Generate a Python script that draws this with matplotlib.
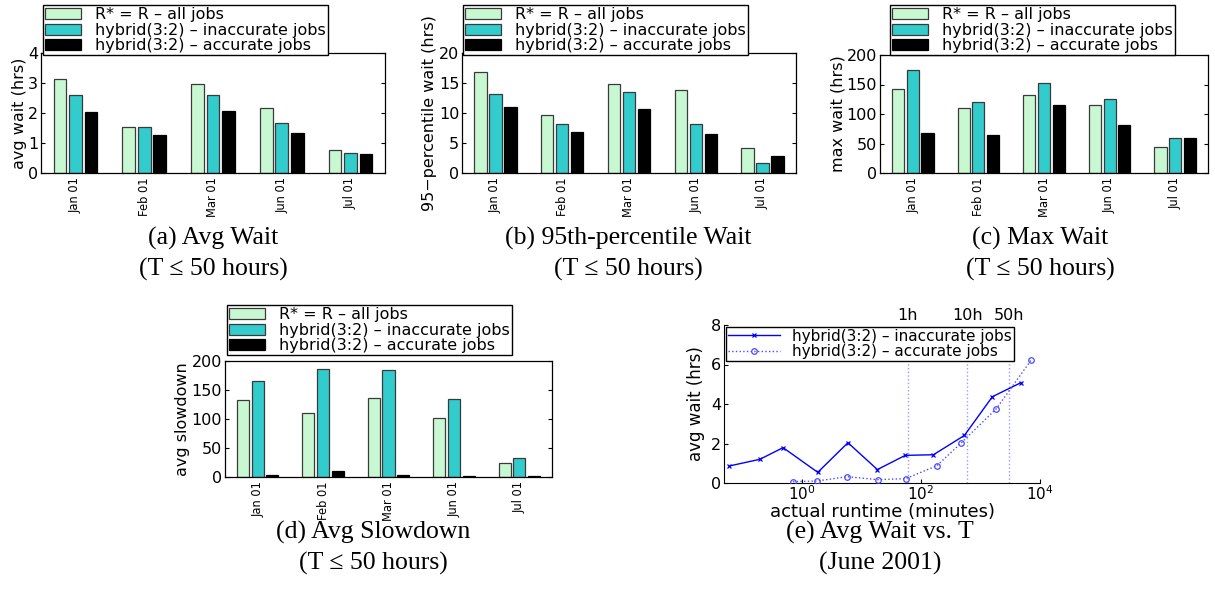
import matplotlib
matplotlib.use("Agg")
import matplotlib.pyplot as plt
import numpy as np
from matplotlib.ticker import FixedLocator, LogFormatterSciNotation, NullLocator

W, H = 1215, 592

months = ["Jan 01", "Feb 01", "Mar 01", "Jun 01", "Jul 01"]
series_names = ["R* = R \u2013 all jobs",
                "hybrid(3:2) \u2013 inaccurate jobs",
                "hybrid(3:2) \u2013 accurate jobs"]

# (a) avg wait (hrs)
avg_wait_all = [3.14, 1.54, 2.96, 2.16, 0.78]
avg_wait_inacc = [2.60, 1.54, 2.60, 1.66, 0.68]
avg_wait_acc = [2.02, 1.26, 2.06, 1.34, 0.63]

# (b) 95-percentile wait (hrs)
p95_all = [16.9, 9.7, 14.9, 13.8, 4.2]
p95_inacc = [13.2, 8.1, 13.5, 8.1, 1.7]
p95_acc = [11.0, 6.9, 10.7, 6.5, 2.85]

# (c) max wait (hrs)
max_all = [143, 111, 133, 116, 44]
max_inacc = [174, 121, 153, 125, 60]
max_acc = [68, 64, 116, 81, 60]

# (d) avg slowdown
sd_all = [133, 110, 137, 101, 25]
sd_inacc = [165, 187, 184, 134, 33]
sd_acc = [3.4, 9.7, 3.4, 1.7, 1.0]

# (e) avg wait vs actual runtime, June 2001
rt_inacc = [0.061, 0.20, 0.49, 1.87, 6.0, 18.7, 55, 163, 540, 1590, 4790]
wait_inacc = [0.86, 1.20, 1.79, 0.54, 2.04, 0.68, 1.40, 1.43, 2.41, 4.37, 5.08]
rt_acc = [0.72, 1.82, 5.8, 19, 56, 187, 480, 1850, 7080]
wait_acc = [0.07, 0.10, 0.32, 0.17, 0.22, 0.88, 2.04, 3.76, 6.22]
limit_minutes = [60, 600, 3000]
limit_labels = ["1h", "10h", "50h"]

LIGHT, TEAL, BLACK = "#c8f8d2", "#33cccc", "#000000"
SANS = "DejaVu Sans"
SERIF = "Liberation Serif"
CAP = 18.5

plt.rcParams.update({"font.family": SANS, "font.size": 10})

fig = plt.figure(figsize=(W / 100, H / 100), dpi=100)


def px_axes(l, t, r, b):
    return fig.add_axes([l / W, 1 - b / H, (r - l) / W, (b - t) / H])


def bar_panel(box, vals, ylim, yticks, ylabel, leg_xy):
    ax = px_axes(*box)
    x = np.arange(1, len(months) + 1)
    w, off = 0.185, 0.225
    colors = [LIGHT, TEAL, BLACK]
    edges = ["#3a3a3a", "#3a3a3a", "#000000"]
    for i, v in enumerate(vals):
        ax.bar(x + (i - 1) * off, v, w, color=colors[i], edgecolor=edges[i],
               linewidth=0.9, label=series_names[i])
    ax.set_xlim(0.5, len(months) + 0.5)
    ax.set_ylim(*ylim)
    ax.set_yticks(yticks)
    ax.set_xticks(x)
    ax.set_xticklabels(months, rotation=90, fontsize=8.3)
    ax.tick_params(axis="x", length=0, pad=3)
    ax.tick_params(axis="y", direction="in", right=True, length=3, labelsize=11.5, pad=2)
    ax.set_ylabel(ylabel, fontsize=11.5, labelpad=1)
    for s in ax.spines.values():
        s.set_linewidth(0.9)
    ax.legend(loc="upper left", bbox_to_anchor=(leg_xy[0] / W, 1 - leg_xy[1] / H),
              bbox_transform=fig.transFigure, fancybox=False, edgecolor="black",
              framealpha=1, fontsize=11.5, borderpad=0.15, labelspacing=0.02,
              handlelength=2.2, handleheight=0.7, handletextpad=0.9,
              borderaxespad=0)
    return ax


bar_panel((41, 53, 385, 173), [avg_wait_all, avg_wait_inacc, avg_wait_acc],
          (0, 4), [0, 1, 2, 3, 4], "avg wait (hrs)", (43, 5))
bar_panel((462, 53, 796, 173), [p95_all, p95_inacc, p95_acc],
          (0, 20), [0, 5, 10, 15, 20], "95\u2212percentile wait (hrs)", (463, 5))
bar_panel((880, 55, 1208, 173), [max_all, max_inacc, max_acc],
          (0, 200), [0, 50, 100, 150, 200], "max wait (hrs)", (890, 5))
bar_panel((225, 361, 552, 477), [sd_all, sd_inacc, sd_acc],
          (0, 200), [0, 50, 100, 150, 200], "avg slowdown", (227, 305))

# (e) line chart
ax = px_axes(724, 325, 1040, 483)
for xv, lab in zip(limit_minutes, limit_labels):
    ax.axvline(xv, color="#9a9aff", ls=":", lw=1.0, zorder=1)
    ax.text(xv, 8.1, lab, ha="center", va="bottom", fontsize=11.5, clip_on=False)
ax.plot(rt_inacc, wait_inacc, "-", color="#0000ff", lw=1.0, marker="x", ms=3,
        mew=0.9, label="hybrid(3:2) \u2013 inaccurate jobs", zorder=3)
ax.plot(rt_acc, wait_acc, ":", color="#4a4aff", lw=1.0, marker="o", ms=4,
        mfc="none", mew=0.9, label="hybrid(3:2) \u2013 accurate jobs", zorder=3)
ax.set_xscale("log")
ax.set_xlim(0.05, 1e4)
ax.set_ylim(0, 8)
ax.xaxis.set_major_locator(FixedLocator([1, 1e2, 1e4]))
ax.xaxis.set_major_formatter(LogFormatterSciNotation())
ax.xaxis.set_minor_locator(NullLocator())
ax.set_yticks([0, 2, 4, 6, 8])
ax.tick_params(direction="in", length=3, labelsize=11.5, pad=2)
ax.tick_params(axis="x", labelsize=11, pad=1)
ax.spines["top"].set_visible(False)
ax.spines["right"].set_visible(False)
ax.set_xlabel("actual runtime (minutes)", fontsize=13, labelpad=0)
ax.set_ylabel("avg wait (hrs)", fontsize=12, labelpad=4)
ax.legend(loc="upper left", fancybox=False, edgecolor="black", framealpha=1,
          fontsize=11, borderpad=0.15, labelspacing=0.02, handlelength=3.4,
          handletextpad=0.8, borderaxespad=0.1)

# captions
captions = [
    (213, 238, "(a) Avg Wait", "(T \u2264 50 hours)"),
    (628, 238, "(b) 95th-percentile Wait", "(T \u2264 50 hours)"),
    (1040, 238, "(c) Max Wait", "(T \u2264 50 hours)"),
    (373, 532, "(d) Avg Slowdown", "(T \u2264 50 hours)"),
    (880, 532, "(e) Avg Wait vs. T", "(June 2001)"),
]
for cx, cy, l1, l2 in captions:
    fig.text(cx / W, 1 - cy / H, l1, ha="center", va="center", family=SERIF, fontsize=CAP)
    fig.text(cx / W, 1 - (cy + 31) / H, l2, ha="center", va="center", family=SERIF, fontsize=CAP)

fig.savefig("out.png", dpi=100)
